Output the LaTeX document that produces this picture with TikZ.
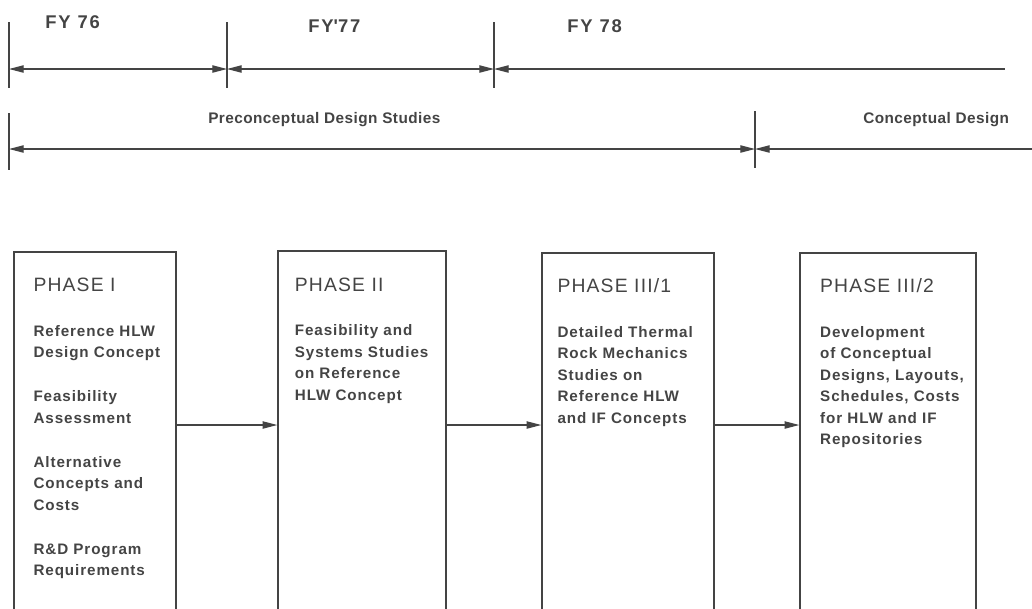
\documentclass[tikz,border=0pt]{standalone}
\usepackage{fontspec}
\setmainfont{Liberation Sans}
\usepackage{xcolor}
\usetikzlibrary{positioning, arrows.meta, calc, fit}
\definecolor{ink}{HTML}{444444}
\tikzset{
  phase/.style={draw=ink, line width=1.1pt, inner sep=0pt},
  ptitle/.style={text=ink, inner sep=0pt, font=\fontsize{14.5}{17}\selectfont\addfontfeatures{LetterSpace=6}},
  pbody/.style={text=ink, inner sep=0pt, align=left, font=\fontsize{11.4}{16.1}\selectfont\bfseries\addfontfeatures{LetterSpace=6}},
  fy/.style={text=ink, inner sep=0pt, anchor=base west, font=\fontsize{13.8}{16}\selectfont\bfseries\addfontfeatures{LetterSpace=10}},
  stage/.style={text=ink, inner sep=0pt, anchor=base west, font=\fontsize{11.5}{14}\selectfont\bfseries\addfontfeatures{LetterSpace=3}},
  tick/.style={draw=ink, line width=1.3pt},
  tip/.tip={Triangle[length=11pt, width=5.5pt]},
  arr/.style={-tip, draw=ink, line width=0.8pt},
  back/.style={tip-, draw=ink, line width=0.9pt},
  span/.style={tip-tip, draw=ink, line width=0.9pt},
}

\begin{document}
\begin{tikzpicture}[x=0.75pt, y=-0.75pt]
\useasboundingbox (0,0) rectangle (1032,608);
\clip (0,0) rectangle (1032,608);

% fiscal years
\foreach \x in {9,227,494}
  \draw[tick] (\x,22) -- (\x,88);
\coordinate (t0) at (9,69);
\coordinate (t1) at (227,69);
\coordinate (t2) at (494,69);
\coordinate (tend) at (1005,69);
\draw[span] (t0) -- (t1);
\draw[span] (t1) -- (t2);
\draw[back] (t2) -- (tend);
\node[fy] (fy76) at (45,28) {FY 76};
\node[fy] (fy77) at (308,32) {FY\textquotesingle 77};
\node[fy] (fy78) at (567,32) {FY 78};

% design stages
\draw[tick] (9,113) -- (9,170);
\draw[tick] (755,111) -- (755,168);
\coordinate (s0) at (9,149);
\coordinate (s1) at (755,149);
\coordinate (send) at (1032,149);
\draw[span] (s0) -- (s1);
\draw[back] (s1) -- (send);
\node[stage] (pre) at (208,123) {Preconceptual Design Studies};
\node[stage] (con) at (863,123) {Conceptual Design};

% phase boxes
\node[phase, fit={(14,252) (176,640)}] (ph1) {};
\node[phase, fit={(278,251) (446,640)}] (ph2) {};
\node[phase, fit={(542,253) (714,640)}] (ph3) {};
\node[phase, fit={(800,253) (976,640)}] (ph4) {};

\node[ptitle, below right=20pt and 15pt of ph1.north west] (ph1t) {PHASE I};
\node[ptitle, below right=20.5pt and 13pt of ph2.north west] (ph2t) {PHASE II};
\node[ptitle, below right=19.5pt and 12pt of ph3.north west] (ph3t) {PHASE III/1};
\node[ptitle, below right=19.5pt and 15.5pt of ph4.north west] (ph4t) {PHASE III/2};

\node[pbody, below right=25pt and 0pt of ph1t.base west] (ph1b)
  {Reference HLW\\Design Concept\\[16.9pt]Feasibility\\Assessment\\[16.9pt]Alternative\\Concepts and\\Costs\\[16.9pt]R\&D Program\\Requirements};
\node[pbody, below right=25pt and 0pt of ph2t.base west] (ph2b)
  {Feasibility and\\Systems Studies\\on Reference\\HLW Concept};
\node[pbody, below right=25pt and 0pt of ph3t.base west] (ph3b)
  {Detailed Thermal\\Rock Mechanics\\Studies on\\Reference HLW\\and IF Concepts};
\node[pbody, below right=25pt and 0pt of ph4t.base west] (ph4b)
  {Development\\of Conceptual\\Designs, Layouts,\\Schedules, Costs\\for HLW and IF\\Repositories};

\coordinate (mid) at (0,425);
\foreach \from/\to in {ph1/ph2, ph2/ph3, ph3/ph4}
  \draw[arr] (\from.east |- mid) -- (\to.west |- mid);
\end{tikzpicture}
\end{document}
